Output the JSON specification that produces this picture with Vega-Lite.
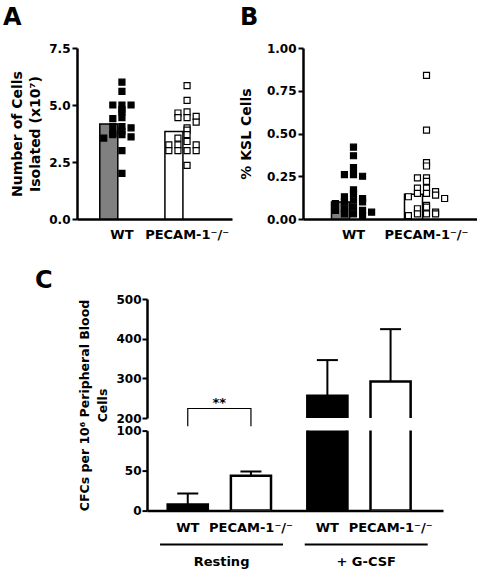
{
  "$schema": "https://vega.github.io/schema/vega-lite/v6.json",
  "background": "white",
  "padding": {"left": 3, "top": 5, "right": 0, "bottom": 0},
  "datasets": {
    "cellsPts": [
      {"genotype": "WT", "value": 6.0}, {"genotype": "WT", "value": 5.6}, {"genotype": "WT", "value": 5.0}, {"genotype": "WT", "value": 5.0}, {"genotype": "WT", "value": 5.0},
      {"genotype": "WT", "value": 4.8}, {"genotype": "WT", "value": 4.7}, {"genotype": "WT", "value": 4.45}, {"genotype": "WT", "value": 4.4}, {"genotype": "WT", "value": 4.05},
      {"genotype": "WT", "value": 4.05}, {"genotype": "WT", "value": 4.0}, {"genotype": "WT", "value": 3.85}, {"genotype": "WT", "value": 3.75}, {"genotype": "WT", "value": 3.7},
      {"genotype": "WT", "value": 3.7}, {"genotype": "WT", "value": 3.6}, {"genotype": "WT", "value": 3.55}, {"genotype": "WT", "value": 3.0}, {"genotype": "WT", "value": 2.0},
      {"genotype": "PECAM-1⁻/⁻", "value": 5.85}, {"genotype": "PECAM-1⁻/⁻", "value": 5.2}, {"genotype": "PECAM-1⁻/⁻", "value": 4.7}, {"genotype": "PECAM-1⁻/⁻", "value": 4.65},
      {"genotype": "PECAM-1⁻/⁻", "value": 4.5}, {"genotype": "PECAM-1⁻/⁻", "value": 4.45}, {"genotype": "PECAM-1⁻/⁻", "value": 4.45}, {"genotype": "PECAM-1⁻/⁻", "value": 4.25},
      {"genotype": "PECAM-1⁻/⁻", "value": 4.0}, {"genotype": "PECAM-1⁻/⁻", "value": 3.9}, {"genotype": "PECAM-1⁻/⁻", "value": 3.7}, {"genotype": "PECAM-1⁻/⁻", "value": 3.55},
      {"genotype": "PECAM-1⁻/⁻", "value": 3.4}, {"genotype": "PECAM-1⁻/⁻", "value": 3.25}, {"genotype": "PECAM-1⁻/⁻", "value": 3.25}, {"genotype": "PECAM-1⁻/⁻", "value": 3.25},
      {"genotype": "PECAM-1⁻/⁻", "value": 3.0}, {"genotype": "PECAM-1⁻/⁻", "value": 3.0}, {"genotype": "PECAM-1⁻/⁻", "value": 3.0}, {"genotype": "PECAM-1⁻/⁻", "value": 3.0},
      {"genotype": "PECAM-1⁻/⁻", "value": 2.35}
    ],
    "cellsBar": [
      {"genotype": "WT", "value": 4.17},
      {"genotype": "PECAM-1⁻/⁻", "value": 3.84}
    ],
    "kslPts": [
      {"genotype": "WT", "value": 0.42}, {"genotype": "WT", "value": 0.37}, {"genotype": "WT", "value": 0.30}, {"genotype": "WT", "value": 0.26}, {"genotype": "WT", "value": 0.25},
      {"genotype": "WT", "value": 0.26}, {"genotype": "WT", "value": 0.17}, {"genotype": "WT", "value": 0.15}, {"genotype": "WT", "value": 0.13}, {"genotype": "WT", "value": 0.12},
      {"genotype": "WT", "value": 0.11}, {"genotype": "WT", "value": 0.10}, {"genotype": "WT", "value": 0.10}, {"genotype": "WT", "value": 0.09}, {"genotype": "WT", "value": 0.07},
      {"genotype": "WT", "value": 0.06}, {"genotype": "WT", "value": 0.05}, {"genotype": "WT", "value": 0.05}, {"genotype": "WT", "value": 0.04}, {"genotype": "WT", "value": 0.03},
      {"genotype": "WT", "value": 0.03}, {"genotype": "WT", "value": 0.02},
      {"genotype": "PECAM-1⁻/⁻", "value": 0.84}, {"genotype": "PECAM-1⁻/⁻", "value": 0.52}, {"genotype": "PECAM-1⁻/⁻", "value": 0.33}, {"genotype": "PECAM-1⁻/⁻", "value": 0.31},
      {"genotype": "PECAM-1⁻/⁻", "value": 0.24}, {"genotype": "PECAM-1⁻/⁻", "value": 0.24}, {"genotype": "PECAM-1⁻/⁻", "value": 0.22}, {"genotype": "PECAM-1⁻/⁻", "value": 0.18},
      {"genotype": "PECAM-1⁻/⁻", "value": 0.18}, {"genotype": "PECAM-1⁻/⁻", "value": 0.16}, {"genotype": "PECAM-1⁻/⁻", "value": 0.15}, {"genotype": "PECAM-1⁻/⁻", "value": 0.15},
      {"genotype": "PECAM-1⁻/⁻", "value": 0.13}, {"genotype": "PECAM-1⁻/⁻", "value": 0.12}, {"genotype": "PECAM-1⁻/⁻", "value": 0.14}, {"genotype": "PECAM-1⁻/⁻", "value": 0.08},
      {"genotype": "PECAM-1⁻/⁻", "value": 0.07}, {"genotype": "PECAM-1⁻/⁻", "value": 0.06}, {"genotype": "PECAM-1⁻/⁻", "value": 0.04}, {"genotype": "PECAM-1⁻/⁻", "value": 0.03},
      {"genotype": "PECAM-1⁻/⁻", "value": 0.03}, {"genotype": "PECAM-1⁻/⁻", "value": 0.02}, {"genotype": "PECAM-1⁻/⁻", "value": 0.03}
    ],
    "kslBar": [
      {"genotype": "WT", "value": 0.10},
      {"genotype": "PECAM-1⁻/⁻", "value": 0.145}
    ],
    "cfc": [
      {"condition": "Resting", "genotype": "WT", "mean": 7.5, "hi": 21.5},
      {"condition": "Resting", "genotype": "PECAM-1⁻/⁻", "mean": 43.5, "hi": 49},
      {"condition": "+ G-CSF", "genotype": "WT", "mean": 256, "hi": 346},
      {"condition": "+ G-CSF", "genotype": "PECAM-1⁻/⁻", "mean": 292, "hi": 424}
    ],
    "bracket": [
      {"condition": "Resting", "genotype": "WT", "value": 179, "o": 1},
      {"condition": "Resting", "genotype": "WT", "value": 224, "o": 2},
      {"condition": "Resting", "genotype": "PECAM-1⁻/⁻", "value": 224, "o": 3},
      {"condition": "Resting", "genotype": "PECAM-1⁻/⁻", "value": 179, "o": 4}
    ],
    "sig": [
      {"condition": "Resting", "value": 238, "label": "**"}
    ],
    "groups": [
      {"condition": "Resting"},
      {"condition": "+ G-CSF"}
    ]
  },
  "vconcat": [
    {
      "hconcat": [
        {
          "width": 155,
          "height": 171,
          "title": {"text": "A", "dx": -74, "offset": 12.5},
          "encoding": {
            "x": {
              "field": "genotype", "type": "nominal", "sort": ["WT", "PECAM-1⁻/⁻"],
              "scale": {"paddingInner": 0.32, "paddingOuter": 0.35},
              "axis": {"title": null, "ticks": false, "labelAngle": 0, "labelFontSize": 13, "labelPadding": 9}
            }
          },
          "layer": [
            {
              "data": {"name": "cellsBar"},
              "mark": {"type": "bar", "stroke": "black", "strokeWidth": 1.5},
              "encoding": {
                "y": {
                  "field": "value", "type": "quantitative",
                  "scale": {"domain": [0, 7.5], "nice": false},
                  "axis": {"values": [0, 2.5, 5, 7.5], "format": ".1f", "title": ["Number of Cells", "Isolated (x10⁷)"], "titleFontSize": 14, "titleLineHeight": 18, "titlePadding": 6, "labelPadding": 2}
                },
                "fill": {"condition": {"test": "datum.genotype === 'WT'", "value": "#808080"}, "value": "white"}
              }
            },
            {
              "data": {"name": "cellsPts"},
              "transform": [
                {"bin": {"step": 0.25}, "field": "value", "as": "vbin"},
                {"window": [{"op": "row_number", "as": "slot"}], "groupby": ["genotype", "vbin"], "sort": [{"field": "value", "order": "descending"}]}
              ],
              "mark": {"type": "square", "size": 36, "filled": true, "stroke": "black", "strokeWidth": 1.2, "opacity": 1},
              "encoding": {
                "y": {
                  "field": "value", "type": "quantitative",
                  "axis": {"values": [0, 2.5, 5, 7.5], "format": ".1f", "title": ["Number of Cells", "Isolated (x10⁷)"], "titleFontSize": 14, "titleLineHeight": 18, "titlePadding": 6, "labelPadding": 2}
                },
                "xOffset": {"field": "slot", "type": "nominal", "scale": {"domain": [4, 2, 1, 3, 5], "paddingInner": 0, "paddingOuter": 0.43}},
                "fill": {"condition": {"test": "datum.genotype === 'WT'", "value": "black"}, "value": "white"}
              }
            }
          ]
        },
        {
          "width": 174,
          "height": 171,
          "title": {"text": "B", "dx": -63, "offset": 12.5},
          "encoding": {
            "x": {
              "field": "genotype", "type": "nominal", "sort": ["WT", "PECAM-1⁻/⁻"],
              "scale": {"paddingInner": 0.397, "paddingOuter": 0.39},
              "axis": {"title": null, "ticks": false, "labelAngle": 0, "labelFontSize": 13, "labelPadding": 9}
            }
          },
          "layer": [
            {
              "data": {"name": "kslBar"},
              "mark": {"type": "bar", "stroke": "black", "strokeWidth": 1.5},
              "encoding": {
                "y": {
                  "field": "value", "type": "quantitative",
                  "scale": {"domain": [0, 1], "nice": false},
                  "axis": {"values": [0, 0.25, 0.5, 0.75, 1], "format": ".2f", "title": "% KSL Cells", "titleFontSize": 14, "titlePadding": 13, "labelPadding": 2}
                },
                "fill": {"condition": {"test": "datum.genotype === 'WT'", "value": "#808080"}, "value": "white"}
              }
            },
            {
              "data": {"name": "kslPts"},
              "transform": [
                {"bin": {"step": 0.04}, "field": "value", "as": "vbin"},
                {"window": [{"op": "row_number", "as": "slot"}], "groupby": ["genotype", "vbin"], "sort": [{"field": "value", "order": "descending"}]}
              ],
              "mark": {"type": "square", "size": 36, "filled": true, "stroke": "black", "strokeWidth": 1.2, "opacity": 1},
              "encoding": {
                "y": {
                  "field": "value", "type": "quantitative",
                  "axis": {"values": [0, 0.25, 0.5, 0.75, 1], "format": ".2f", "title": "% KSL Cells", "titleFontSize": 14, "titlePadding": 13, "labelPadding": 2}
                },
                "xOffset": {"field": "slot", "type": "nominal", "scale": {"domain": [4, 2, 1, 3, 5], "paddingInner": 0, "paddingOuter": 0.43}},
                "fill": {"condition": {"test": "datum.genotype === 'WT'", "value": "black"}, "value": "white"}
              }
            }
          ]
        }
      ],
      "spacing": 71,
      "bounds": "flush",
      "resolve": {"scale": {"x": "independent", "y": "independent", "xOffset": "independent"}}
    },
    {
      "vconcat": [
        {
          "width": 366,
          "height": 119,
          "title": {"text": "C", "dx": -42, "offset": 0},
          "encoding": {
            "x": {
              "field": "condition", "type": "nominal", "sort": ["Resting", "+ G-CSF"],
              "scale": {"range": [70, 366], "paddingInner": 0.26, "paddingOuter": 0.19, "align": 0.39},
              "axis": null
            }
          },
          "layer": [
            {
              "data": {"name": "cfc"},
              "mark": {"type": "bar", "stroke": "black", "strokeWidth": 2.5, "clip": true},
              "encoding": {
                "xOffset": {"field": "genotype", "type": "nominal", "sort": ["WT", "PECAM-1⁻/⁻"], "scale": {"paddingInner": 0.365, "paddingOuter": 0}},
                "y": {
                  "field": "mean", "type": "quantitative",
                  "scale": {"domain": [200, 500], "nice": false},
                  "axis": {"values": [200, 300, 400, 500], "title": ["CFCs per 10⁶ Peripheral Blood", "Cells"], "titleFontSize": 12.5, "titleLineHeight": 18, "titlePadding": 6, "titleY": 106, "titleAlign": "center", "titleBaseline": "bottom", "titleAngle": 270, "titleLimit": 400, "labelPadding": 1, "offset": -70}
                },
                "y2": {"datum": 0},
                "fill": {"condition": {"test": "datum.genotype === 'WT'", "value": "black"}, "value": "white"}
              }
            },
            {
              "data": {"name": "cfc"},
              "mark": {"type": "rule", "color": "black", "strokeWidth": 2, "clip": true},
              "encoding": {
                "xOffset": {"field": "genotype", "type": "nominal", "sort": ["WT", "PECAM-1⁻/⁻"]},
                "y": {"field": "mean", "type": "quantitative", "axis": {"values": [200, 300, 400, 500], "title": ["CFCs per 10⁶ Peripheral Blood", "Cells"], "titleFontSize": 12.5, "titleLineHeight": 18, "titlePadding": 6, "titleY": 106, "titleAlign": "center", "titleBaseline": "bottom", "titleAngle": 270, "titleLimit": 400, "labelPadding": 1, "offset": -70}},
                "y2": {"field": "hi"}
              }
            },
            {
              "data": {"name": "cfc"},
              "mark": {"type": "tick", "color": "black", "size": 21, "thickness": 2, "clip": true, "opacity": 1},
              "encoding": {
                "xOffset": {"field": "genotype", "type": "nominal", "sort": ["WT", "PECAM-1⁻/⁻"]},
                "y": {"field": "hi", "type": "quantitative", "axis": {"values": [200, 300, 400, 500], "title": ["CFCs per 10⁶ Peripheral Blood", "Cells"], "titleFontSize": 12.5, "titleLineHeight": 18, "titlePadding": 6, "titleY": 106, "titleAlign": "center", "titleBaseline": "bottom", "titleAngle": 270, "titleLimit": 400, "labelPadding": 1, "offset": -70}}
              }
            },
            {
              "data": {"name": "bracket"},
              "mark": {"type": "line", "color": "black", "strokeWidth": 1.2, "clip": false},
              "encoding": {
                "xOffset": {"field": "genotype", "type": "nominal", "sort": ["WT", "PECAM-1⁻/⁻"]},
                "y": {"field": "value", "type": "quantitative", "axis": {"values": [200, 300, 400, 500], "title": ["CFCs per 10⁶ Peripheral Blood", "Cells"], "titleFontSize": 12.5, "titleLineHeight": 18, "titlePadding": 6, "titleY": 106, "titleAlign": "center", "titleBaseline": "bottom", "titleAngle": 270, "titleLimit": 400, "labelPadding": 1, "offset": -70}},
                "order": {"field": "o", "type": "quantitative"}
              }
            },
            {
              "data": {"name": "sig"},
              "mark": {"type": "text", "fontSize": 13, "fontWeight": "bold", "baseline": "middle", "color": "black"},
              "encoding": {
                "y": {"field": "value", "type": "quantitative", "axis": {"values": [200, 300, 400, 500], "title": ["CFCs per 10⁶ Peripheral Blood", "Cells"], "titleFontSize": 12.5, "titleLineHeight": 18, "titlePadding": 6, "titleY": 106, "titleAlign": "center", "titleBaseline": "bottom", "titleAngle": 270, "titleLimit": 400, "labelPadding": 1, "offset": -70}},
                "text": {"field": "label"}
              }
            }
          ]
        },
        {
          "vconcat": [
            {
              "width": 366,
              "height": 80,
              "encoding": {
                "x": {
                  "field": "condition", "type": "nominal", "sort": ["Resting", "+ G-CSF"],
                  "scale": {"range": [70, 366], "paddingInner": 0.26, "paddingOuter": 0.19, "align": 0.39},
                  "axis": {"title": null, "labels": false, "ticks": false}
                },
                "xOffset": {"field": "genotype", "type": "nominal", "sort": ["WT", "PECAM-1⁻/⁻"], "scale": {"paddingInner": 0.365, "paddingOuter": 0}}
              },
              "layer": [
                {
                  "data": {"name": "cfc"},
                  "mark": {"type": "bar", "stroke": "black", "strokeWidth": 2.5, "clip": true},
                  "encoding": {
                    "y": {
                      "field": "mean", "type": "quantitative",
                      "scale": {"domain": [0, 100], "nice": false},
                      "axis": {"values": [0, 50, 100], "title": null, "labelPadding": 1, "offset": -70}
                    },
                    "y2": {"datum": 0},
                    "fill": {"condition": {"test": "datum.genotype === 'WT'", "value": "black"}, "value": "white"}
                  }
                },
                {
                  "data": {"name": "cfc"},
                  "mark": {"type": "rule", "color": "black", "strokeWidth": 2, "clip": true},
                  "encoding": {
                    "y": {"field": "mean", "type": "quantitative", "axis": {"values": [0, 50, 100], "title": null, "labelPadding": 1, "offset": -70}},
                    "y2": {"field": "hi"}
                  }
                },
                {
                  "data": {"name": "cfc"},
                  "mark": {"type": "tick", "color": "black", "size": 21, "thickness": 2, "clip": true, "opacity": 1},
                  "encoding": {
                    "y": {"field": "hi", "type": "quantitative", "axis": {"values": [0, 50, 100], "title": null, "labelPadding": 1, "offset": -70}}
                  }
                },
                {
                  "data": {"name": "cfc"},
                  "mark": {"type": "text", "fontSize": 13, "fontWeight": "bold", "baseline": "middle", "dy": 17, "color": "black", "clip": false},
                  "encoding": {
                    "y": {"datum": 0, "type": "quantitative", "axis": {"values": [0, 50, 100], "title": null, "labelPadding": 1, "offset": -70}},
                    "text": {"field": "genotype"}
                  }
                }
              ]
            },
            {
              "width": 366,
              "height": 2,
              "data": {"name": "groups"},
              "mark": {"type": "rect", "color": "black"},
              "encoding": {
                "x": {
                  "field": "condition", "type": "nominal", "sort": ["Resting", "+ G-CSF"],
                  "scale": {"range": [70, 366], "paddingInner": 0.15, "paddingOuter": 0.098, "align": 0.46},
                  "axis": {"title": null, "ticks": false, "domain": false, "labelAngle": 0, "labelFontSize": 13, "labelPadding": 10}
                }
              }
            }
          ],
          "spacing": 33,
          "bounds": "flush",
          "resolve": {"scale": {"x": "independent", "y": "independent", "xOffset": "independent"}}
        }
      ],
      "spacing": 12.6,
      "bounds": "flush",
      "resolve": {"scale": {"x": "independent", "y": "independent", "xOffset": "independent"}}
    }
  ],
  "spacing": 28,
  "resolve": {"scale": {"x": "independent", "y": "independent", "xOffset": "independent"}},
  "config": {
    "font": "DejaVu Sans",
    "view": {"stroke": null},
    "axis": {
      "domainColor": "black", "tickColor": "black", "labelColor": "black", "titleColor": "black",
      "labelFont": "DejaVu Sans", "titleFont": "DejaVu Sans", "labelFontWeight": "bold", "titleFontWeight": "bold",
      "grid": false, "domainWidth": 2.5, "tickWidth": 2, "tickSize": 5, "labelFontSize": 12
    },
    "title": {"font": "DejaVu Sans", "fontWeight": "bold", "fontSize": 24, "color": "black", "anchor": "start", "frame": "group", "baseline": "alphabetic"}
  }
}
